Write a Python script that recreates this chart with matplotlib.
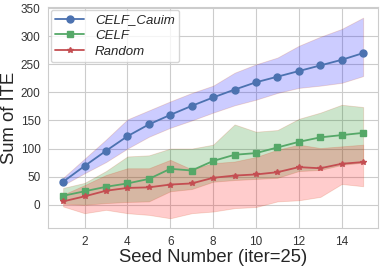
import matplotlib

matplotlib.use("Agg")
import matplotlib.pyplot as plt
import seaborn as sns

# seed numbers
seeds = list(range(1, 16))

# CELF_Cauim: mean and band
cauim = [41, 69, 96, 122, 143, 160, 176, 191, 205, 218, 228, 238, 248, 258, 270]
cauim_lo = [35, 56, 76, 100, 121, 137, 150, 164, 177, 187, 199, 208, 212, 217, 229]
cauim_hi = [48, 82, 116, 152, 168, 184, 199, 212, 235, 250, 262, 283, 299, 313, 333]

# CELF
celf = [16, 24, 32, 38, 46, 64, 61, 78, 89, 92, 102, 112, 120, 124, 128]
celf_lo = [2, 0, 3, 5, 6, 24, 28, 41, 44, 46, 48, 60, 62, 71, 75]
celf_hi = [30, 39, 60, 86, 88, 100, 100, 107, 143, 130, 133, 153, 164, 178, 174]

# Random
rand = [6, 15, 25, 30, 31, 36, 38, 48, 52, 54, 58, 67, 65, 73, 76]
rand_lo = [-3, -15, -9, -15, -18, -24, -15, -12, -6, -4, 6, 8, 14, 37, 33]
rand_hi = [18, 35, 53, 65, 65, 80, 63, 74, 77, 85, 98, 107, 101, 104, 107]

sns.set_style("whitegrid")
plt.rcParams["font.family"] = ["Liberation Sans", "DejaVu Sans"]

fig = plt.figure(figsize=(3.82, 2.69), dpi=100)
ax = fig.add_axes([0.126, 0.151, 0.864, 0.823])

edge = (0.8, 0.3, 0.1, 0.15)
ax.fill_between(seeds, cauim_lo, cauim_hi, facecolor="blue", alpha=0.2,
                edgecolor=edge, lw=0.6)
ax.fill_between(seeds, celf_lo, celf_hi, facecolor="green", alpha=0.2,
                edgecolor=edge, lw=0.6)
ax.fill_between(seeds, rand_lo, rand_hi, facecolor="red", alpha=0.2,
                edgecolor=edge, lw=0.6)

ax.plot(seeds, cauim, color="#4C72B0", marker="o", ms=5, lw=1.3,
        label="CELF_Cauim")
ax.plot(seeds, celf, color="#55A868", marker="s", ms=4.5, lw=1.3,
        label="CELF")
ax.plot(seeds, rand, color="#C44E52", marker="*", ms=4, lw=1.3,
        label="Random")

ax.set_xlim(0.3, 15.7)
ax.set_ylim(-42, 352)
ax.set_xticks([2, 4, 6, 8, 10, 12, 14])
ax.set_yticks([0, 50, 100, 150, 200, 250, 300, 350])
ax.tick_params(labelsize=8.5, pad=2, labelcolor="#333333")
ax.set_xlabel("Seed Number (iter=25)", fontsize=13.3, labelpad=1)
ax.set_ylabel("Sum of ITE", fontsize=13.3, labelpad=2)
ax.legend(loc="upper left", prop={"style": "italic", "size": 9.5},
          frameon=True, borderaxespad=0.2, handlelength=2.2,
          labelspacing=0.25, borderpad=0.35)

fig.savefig("out.png", dpi=100)
